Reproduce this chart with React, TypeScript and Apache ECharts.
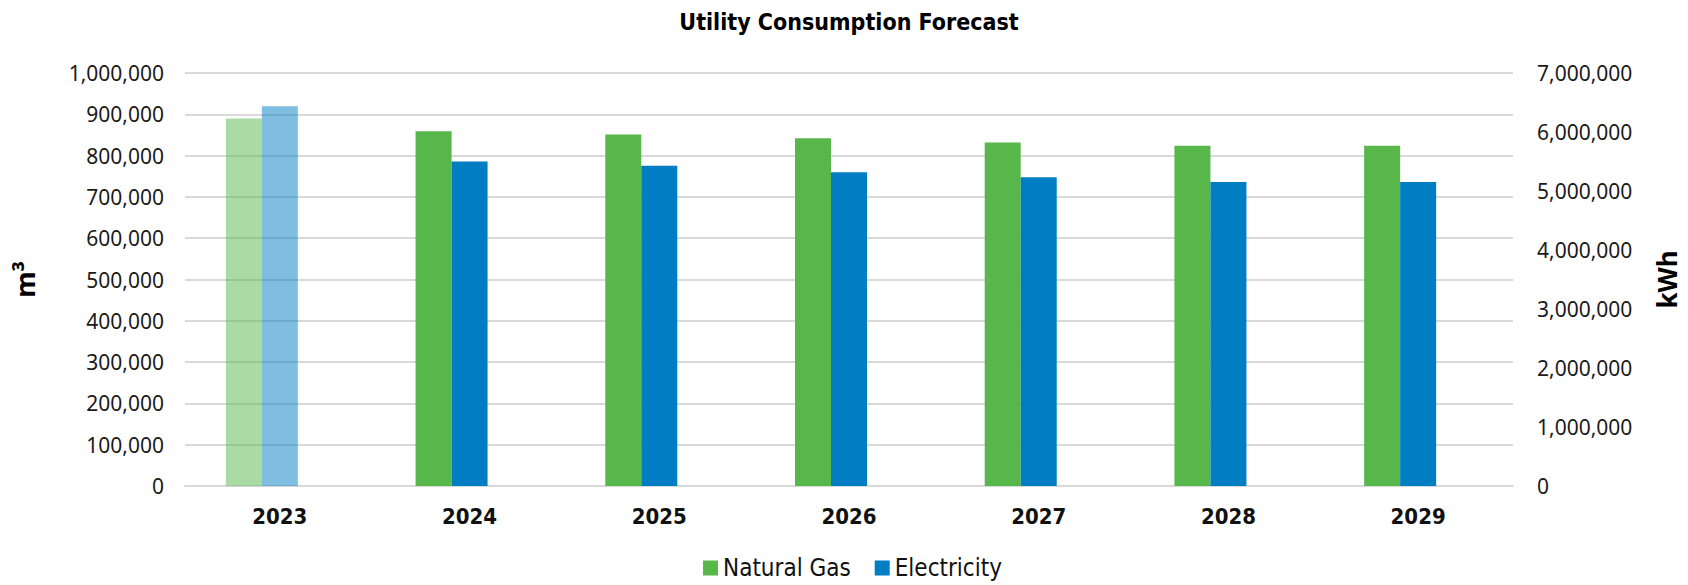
import React, { useEffect, useRef } from "react";
import * as echarts from "echarts";

const categories = ["2023", "2024", "2025", "2026", "2027", "2028", "2029"];
const naturalGas = [890000, 859000, 851000, 842000, 832000, 824000, 824000];
const electricity = [6435000, 5500000, 5430000, 5317000, 5232000, 5152000, 5152000];
const actualYears = ["2023"]; // shown lighter (actual vs forecast)

const GREEN = "#57B74B";
const BLUE = "#007DC3";
const NARROW = "'Liberation Sans Narrow', 'DejaVu Sans Condensed', 'Noto Sans', sans-serif";
const SANS = "'Noto Sans', 'Open Sans', sans-serif";

const fmt = (v: number) => v.toLocaleString("en-US");

export default function App() {
  const ref = useRef<HTMLDivElement>(null);
  useEffect(() => {
    if (!ref.current) return;
    document.body.style.margin = "0";
    document.body.style.overflow = "hidden";
    const chart = echarts.init(ref.current, undefined, { renderer: "svg", width: 1688, height: 585 });
    const itemOpacity = (c: string) => (actualYears.includes(c) ? 0.5 : 1);
    chart.setOption({
      animation: false,
      backgroundColor: "#fff",
      graphic: [
        {
          type: "text",
          x: 849,
          y: 22,
          style: {
            text: "Utility Consumption Forecast",
            font: `bold 23px ${NARROW}`,
            fill: "#000",
            align: "center",
            verticalAlign: "middle",
          },
        },
      ],
      grid: {
        left: 185,
        right: 175,
        top: 73,
        bottom: 99,
        containLabel: false,
        outerBoundsMode: "none",
      },
      legend: {
        data: ["Natural Gas", "Electricity"],
        left: 698,
        top: 551,
        itemWidth: 15,
        itemHeight: 15,
        itemGap: 24,
        icon: "rect",
        textStyle: { fontFamily: NARROW, fontSize: 24, color: "#111" },
      },
      xAxis: {
        type: "category",
        data: categories,
        axisTick: { show: false },
        axisLine: { show: true, lineStyle: { color: "#D9D9D9", width: 2 } },
        axisLabel: { fontFamily: NARROW, fontWeight: "bold", fontSize: 22, color: "#111", margin: 19 },
      },
      yAxis: [
        {
          type: "value",
          min: 0,
          max: 1000000,
          interval: 100000,
          name: "m³",
          nameLocation: "middle",
          nameRotate: 90,
          nameGap: 147,
          nameTextStyle: { fontFamily: SANS, fontWeight: "bold", fontSize: 27, color: "#000" },
          axisLine: { show: false },
          axisTick: { show: false },
          splitLine: { show: true, lineStyle: { color: "#D9D9D9", width: 2 } },
          axisLabel: { fontFamily: SANS, fontSize: 21, color: "#1a1a1a", margin: 21, formatter: fmt },
        },
        {
          type: "value",
          min: 0,
          max: 7000000,
          interval: 1000000,
          name: "kWh",
          nameLocation: "middle",
          nameRotate: 90,
          nameGap: 141,
          nameTextStyle: { fontFamily: SANS, fontWeight: "bold", fontSize: 26, color: "#000" },
          axisLine: { show: false },
          axisTick: { show: false },
          splitLine: { show: false },
          axisLabel: { fontFamily: SANS, fontSize: 21, color: "#1a1a1a", margin: 24, formatter: fmt },
        },
      ],
      series: [
        {
          name: "Natural Gas",
          type: "bar",
          yAxisIndex: 0,
          barWidth: 36,
          barGap: "0%",
          itemStyle: { color: GREEN },
          data: naturalGas.map((v, i) => ({ value: v, itemStyle: { opacity: itemOpacity(categories[i]) } })),
        },
        {
          name: "Electricity",
          type: "bar",
          yAxisIndex: 1,
          barWidth: 36,
          barGap: "0%",
          itemStyle: { color: BLUE },
          data: electricity.map((v, i) => ({ value: v, itemStyle: { opacity: itemOpacity(categories[i]) } })),
        },
        {
          name: "spacer",
          type: "bar",
          yAxisIndex: 0,
          barWidth: 36,
          barGap: "0%",
          data: [],
        },
      ],
    });
    return () => chart.dispose();
  }, []);
  return (
    <div
      ref={ref}
      style={{ position: "absolute", left: 0, top: 0, width: 1688, height: 585 }}
    />
  );
}
